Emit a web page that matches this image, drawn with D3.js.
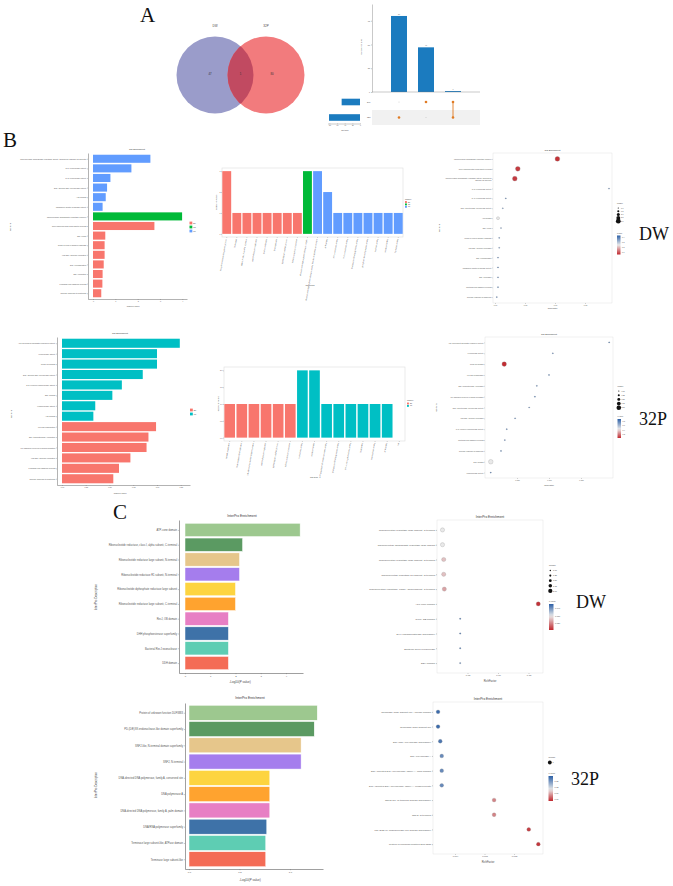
<!DOCTYPE html>
<html>
<head>
<meta charset="utf-8">
<script src="https://cdn.jsdelivr.net/npm/d3@7"></script>
<style>
  body { margin: 0; background: #fff; }
  svg { display: block; }
</style>
</head>
<body>
<svg id="fig" width="673" height="886"></svg>
<script>
// ---------- A: Venn + UpSet ----------
var vennSets = ["DW", "32P"];
var vennCounts = [47, 1, 80]; // DW only, shared, 32P only
var upsetSets = ["DW", "32P"];
var upsetSetSizes = [48, 81];
var upsetSizes = [80, 47, 1];
var upsetMembers = [["32P"], ["DW"], ["DW", "32P"]];
var upsetYTicks = [0, 25, 50, 75];
var setSizeTicks = [0, 20, 40, 60, 80];

// ---------- B: GO, DW ----------
var goDwTerms = [
  "ribonucleoside-diphosphate reductase activity, thioredoxin disulfide as acceptor",
  "3'-5' exonuclease activity",
  "5'-3' exonuclease activity",
  "DNA-directed DNA polymerase activity",
  "ATP binding",
  "phosphoric diester hydrolase activity",
  "ribonucleoside-diphosphate reductase complex",
  "deoxyribonucleotide biosynthetic process",
  "DNA repair",
  "killing of cells of another organism",
  "viral DNA genome replication",
  "DNA recombination",
  "DNA replication",
  "peptidoglycan catabolic process",
  "defense response to bacterium"
];
var goDwLog = [2.57, 1.72, 0.78, 0.63, 0.57, 0.43, 3.99, 2.75, 0.55, 0.52, 0.52, 0.48, 0.43, 0.42, 0.37];
var goDwCat = ["MF", "MF", "MF", "MF", "MF", "MF", "CC", "BP", "BP", "BP", "BP", "BP", "BP", "BP", "BP"];
var goLogTicks = [0, 1, 2, 3, 4];

var goDwCountTerms = [
  "deoxyribonucleotide biosynthetic process", "DNA repair", "killing of cells of another organism",
  "viral DNA genome replication", "DNA recombination", "DNA replication",
  "peptidoglycan catabolic process", "defense response to bacterium",
  "ribonucleoside-diphosphate reductase complex",
  "ribonucleoside-diphosphate reductase activity, thioredoxin disulfide as acceptor",
  "ATP binding", "3'-5' exonuclease activity", "5'-3' exonuclease activity",
  "DNA-directed DNA polymerase activity", "phosphoric diester hydrolase activity",
  "nuclease activity", "metal ion binding", "hydrolase activity"
];
var goDwCounts = [3, 1, 1, 1, 1, 1, 1, 1, 3, 3, 2, 1, 1, 1, 1, 1, 1, 1];
var goDwCountCat = ["BP", "BP", "BP", "BP", "BP", "BP", "BP", "BP", "CC", "MF", "MF", "MF", "MF", "MF", "MF", "MF", "MF", "MF"];
var goDwCountTicks = [0, 1, 2, 3];

var goDwDotTerms = [
  "ribonucleoside-diphosphate reductase complex",
  "deoxyribonucleotide biosynthetic process",
  "ribonucleoside-diphosphate reductase activity, thioredoxin disulfide as acceptor",
  "3'-5' exonuclease activity",
  "5'-3' exonuclease activity",
  "DNA-directed DNA polymerase activity",
  "ATP binding",
  "DNA repair",
  "killing of cells of another organism",
  "viral DNA genome replication",
  "DNA recombination",
  "phosphoric diester hydrolase activity",
  "DNA replication",
  "peptidoglycan catabolic process",
  "defense response to bacterium"
];
var goDwRich = [0.104, 0.038, 0.033, 0.19, 0.018, 0.013, 0.005, 0.010, 0.007, 0.007, 0.005, 0.005, 0.005, 0.005, 0.003];
var goDwNumber = [3, 3, 3, 1, 1, 1, 2, 1, 1, 1, 1, 1, 1, 1, 1];
var goDwP = [0.06, 0.07, 0.07, 0.42, 0.40, 0.40, 0.25, 0.41, 0.42, 0.42, 0.43, 0.43, 0.43, 0.43, 0.44];
var goDwRichTicks = [0, 0.05, 0.10, 0.15];
var goDwNumberTicks = [1, 1.5, 2, 2.5, 3];
var goDwPTicks = [0.1, 0.2, 0.3, 0.4];

// ---------- B: GO, 32P ----------
var go32Terms = [
  "ATP-dependent chromatin remodeler activity", "exonuclease activity", "metal ion binding",
  "DNA-directed DNA polymerase activity", "3'-5'-exodeoxyribonuclease activity", "DNA binding",
  "endonuclease activity", "ATP binding",
  "cell wall organization", "DNA-templated DNA replication", "cell adhesion involved in biofilm formation",
  "viral DNA genome replication", "peptidoglycan catabolic process", "defense response to bacterium"
];
var go32Log = [1.24, 1.00, 1.00, 0.85, 0.63, 0.53, 0.35, 0.33, 0.99, 0.91, 0.89, 0.72, 0.60, 0.54];
var go32Cat = ["MF", "MF", "MF", "MF", "MF", "MF", "MF", "MF", "BP", "BP", "BP", "BP", "BP", "BP"];
var go32LogTicks = [0, 0.25, 0.5, 0.75, 1, 1.25];

var go32CountTerms = [
  "cell wall organization", "DNA-templated DNA replication", "cell adhesion involved in biofilm formation",
  "viral DNA genome replication", "peptidoglycan catabolic process", "defense response to bacterium",
  "exonuclease activity", "metal ion binding", "ATP-dependent chromatin remodeler activity",
  "DNA-directed DNA polymerase activity", "3'-5'-exodeoxyribonuclease activity", "DNA binding",
  "endonuclease activity", "ATP binding", "NA"
];
var go32Counts = [1, 1, 1, 1, 1, 1, 2, 2, 1, 1, 1, 1, 1, 1, 0];
var go32CountCat = ["BP", "BP", "BP", "BP", "BP", "BP", "MF", "MF", "MF", "MF", "MF", "MF", "MF", "MF", "MF"];
var go32CountTicks = [0, 0.5, 1, 1.5, 2];

var go32DotTerms = [
  "ATP-dependent chromatin remodeler activity", "exonuclease activity", "metal ion binding",
  "cell wall organization", "DNA-templated DNA replication", "cell adhesion involved in biofilm formation",
  "DNA-directed DNA polymerase activity", "viral DNA genome replication",
  "3'-5'-exodeoxyribonuclease activity", "peptidoglycan catabolic process",
  "defense response to bacterium", "DNA binding", "endonuclease activity"
];
var go32Rich = [0.194, 0.106, 0.030, 0.100, 0.081, 0.078, 0.069, 0.047, 0.034, 0.031, 0.025, 0.009, 0.009];
var go32Number = [1, 1, 2, 1, 1, 1, 1, 1, 1, 1, 1, 2, 1];
var go32P = [0.85, 0.90, 0.06, 0.88, 0.88, 0.88, 0.85, 0.87, 0.87, 0.87, 0.88, 0.45, 0.90];
var go32RichTicks = [0.05, 0.10, 0.15];
var go32NumberTicks = [1, 1.25, 1.5, 1.75, 2];
var go32PTicks = [0.2, 0.4, 0.6, 0.8];

// ---------- C: InterPro ----------
var ipDwTerms = [
  "ATP-cone domain",
  "Ribonucleotide reductase, class I, alpha subunit, C-terminal",
  "Ribonucleotide reductase large subunit, N-terminal",
  "Ribonucleotide reductase R1 subunit, N-terminal",
  "Ribonucleotide diphosphate reductase large subunit",
  "Ribonucleotide reductase large subunit, C-terminal",
  "RecJ, OB domain",
  "DHH phosphoesterase superfamily",
  "Bacterial RecJ exonuclease",
  "DDH domain"
];
var ipDwLog = [4.56, 2.28, 2.16, 2.16, 2.0, 2.0, 1.72, 1.72, 1.72, 1.72];
var ipDwLogTicks = [0, 1, 2, 3, 4];

var ipDwDotTerms = [
  "Ribonucleotide reductase large subunit, C-terminal",
  "Ribonucleotide diphosphate reductase large subunit",
  "Ribonucleotide reductase large subunit, N-terminal",
  "Ribonucleotide reductase R1 subunit, N-terminal",
  "Ribonucleotide reductase, class I, alpha subunit, C-terminal",
  "ATP-cone domain",
  "RecJ, OB domain",
  "DHH phosphoesterase superfamily",
  "Bacterial RecJ exonuclease",
  "DDH domain"
];
var ipDwRich = [0.009, 0.009, 0.011, 0.011, 0.012, 0.166, 0.038, 0.038, 0.038, 0.038];
var ipDwNumber = [2, 2, 2, 2, 2, 2, 1, 1, 1, 1];
var ipDwP = [0.030, 0.030, 0.026, 0.026, 0.023, 0.012, 0.045, 0.045, 0.045, 0.045];
var ipDwRichTicks = [0.05, 0.10, 0.15];
var ipDwNumberTicks = [1, 1.25, 1.5, 1.75, 2];
var ipDwPTicks = [0.02, 0.03, 0.04];

var ip32Terms = [
  "Protein of unknown function DUF3883",
  "PD-(D/E)XK endonuclease-like domain superfamily",
  "SNF2-like, N-terminal domain superfamily",
  "SNF2, N-terminal",
  "DNA-directed DNA polymerase, family A, conserved site",
  "DNA polymerase A",
  "DNA-directed DNA polymerase, family A, palm domain",
  "DNA/RNA polymerase superfamily",
  "Terminase large subunit-like, ATPase domain",
  "Terminase large subunit-like"
];
var ip32Log = [1.27, 1.24, 1.11, 1.11, 0.80, 0.80, 0.80, 0.77, 0.76, 0.76];
var ip32LogTicks = [0, 0.5, 1.0];

var ip32DotTerms = [
  "Terminase large subunit-like, ATPase domain",
  "Terminase large subunit-like",
  "DNA/RNA polymerase superfamily",
  "DNA polymerase A",
  "DNA-directed DNA polymerase, family A, palm domain",
  "DNA-directed DNA polymerase, family A, conserved site",
  "SNF2-like, N-terminal domain superfamily",
  "SNF2, N-terminal",
  "PD-(D/E)XK endonuclease-like domain superfamily",
  "Protein of unknown function DUF3883"
];
var ip32Rich = [0.0017, 0.0017, 0.0020, 0.0022, 0.0022, 0.0022, 0.0093, 0.0093, 0.0140, 0.0153];
var ip32Number = [1, 1, 1, 1, 1, 1, 1, 1, 1, 1];
var ip32P = [0.174, 0.174, 0.168, 0.158, 0.158, 0.158, 0.078, 0.078, 0.057, 0.054];
var ip32RichTicks = [0.004, 0.008, 0.012];
var ip32NumberTicks = [1];
var ip32PTicks = [0.06, 0.09, 0.12, 0.15];

// ---------- styles ----------
var SANS = "Liberation Sans, Arial, sans-serif";
var SERIF = "Liberation Serif, Times New Roman, serif";
var goColor = { BP: "#F8766D", CC: "#00BA38", MF: "#619CFF" };
var go32Color = { BP: "#F8766D", MF: "#00BFC4" };
var ipPalette = ["#9dc88f", "#5b9a62", "#e6c68b", "#a57ded", "#fdd440", "#ffa32f", "#e77fc4", "#3e72a8", "#5ecdb3", "#f46c56"];
var upsetBlue = "#1b7bbf", upsetOrange = "#e07b24";

var svg = d3.select("#fig");
var defs = svg.append("defs");

function txt(g, x, y, s, size, opt) {
  opt = opt || {};
  var t = g.append("text").attr("x", x).attr("y", y).text(s)
    .attr("font-family", opt.serif ? SERIF : SANS)
    .attr("font-size", size)
    .attr("fill", opt.fill || "#444")
    .attr("text-anchor", opt.anchor || "middle");
  if (opt.rotate != null) t.attr("transform", `rotate(${opt.rotate},${x},${y})`);
  return t;
}

function styleAxis(a, fs, col) {
  a.attr("font-size", fs).attr("font-family", SANS);
  a.selectAll("path,line").attr("stroke", col || "#555").attr("stroke-width", 0.4);
  a.selectAll("text").attr("fill", "#555");
  return a;
}

/* ===== Panel letters and group tags ===== */
txt(svg, 140, 22, "A", 21, { serif: true, anchor: "start", fill: "#111" });
txt(svg, 3, 147, "B", 21, { serif: true, anchor: "start", fill: "#111" });
txt(svg, 113, 519, "C", 21, { serif: true, anchor: "start", fill: "#111" });
txt(svg, 639, 240, "DW", 18, { serif: true, anchor: "start", fill: "#111" });
txt(svg, 639, 425, "32P", 18, { serif: true, anchor: "start", fill: "#111" });
txt(svg, 576, 608, "DW", 18, { serif: true, anchor: "start", fill: "#111" });
txt(svg, 571, 785, "32P", 18, { serif: true, anchor: "start", fill: "#111" });

/* ===== A: Venn ===== */
(function () {
  var g = svg.append("g");
  var cx = d3.scalePoint().domain(vennSets).range([215, 266]);
  var cy = 75, r = 38.5;
  var fills = ["#9a9cca", "#f27b7d"];
  defs.append("clipPath").attr("id", "clipDW").append("circle")
    .attr("cx", cx("DW")).attr("cy", cy).attr("r", r);
  g.selectAll("circle.set").data(vennSets).join("circle")
    .attr("cx", d => cx(d)).attr("cy", cy).attr("r", r)
    .attr("fill", (d, i) => fills[i]);
  g.append("circle").attr("cx", cx("32P")).attr("cy", cy).attr("r", r)
    .attr("clip-path", "url(#clipDW)").attr("fill", "#c14a61");
  vennSets.forEach(function (s) { txt(g, cx(s), 27, s, 3); });
  var numX = [cx("DW") - 5, (cx("DW") + cx("32P")) / 2, cx("32P") + 6];
  vennCounts.forEach(function (v, i) { txt(g, numX[i], 75, v, 2.8, { fill: "#333" }); });
})();

/* ===== A: UpSet ===== */
(function () {
  var g = svg.append("g");
  var x = d3.scalePoint().domain(d3.range(upsetSizes.length)).range([399, 453]);
  var y = d3.scaleLinear().domain([0, 92.6]).range([92, 4]);
  var rows = d3.scalePoint().domain(upsetSets).range([102, 117.5]);
  g.append("rect").attr("x", 372).attr("y", rows("32P") - 7.5).attr("width", 108).attr("height", 15).attr("fill", "#f1f1f1");
  g.selectAll("rect.bar").data(upsetSizes).join("rect")
    .attr("x", (d, i) => x(i) - 8).attr("y", d => y(d))
    .attr("width", 16).attr("height", d => y(0) - y(d)).attr("fill", upsetBlue);
  upsetSizes.forEach(function (v, i) { txt(g, x(i), y(v) - 1.2, v, 1.8, { fill: "#666" }); });
  var ay = g.append("g").attr("transform", "translate(372,0)")
    .call(d3.axisLeft(y).tickValues(upsetYTicks).tickSize(1).tickPadding(1).tickSizeOuter(0));
  styleAxis(ay, 2, "#777");
  g.append("line").attr("x1", 372).attr("x2", 480).attr("y1", y(0)).attr("y2", y(0)).attr("stroke", "#777").attr("stroke-width", 0.4);
  txt(g, 362, 47, "Intersection Size", 2.2, { rotate: -90 });
  upsetMembers.forEach(function (m, i) {
    var ys = m.map(s => rows(s));
    if (ys.length > 1) {
      g.append("line").attr("x1", x(i)).attr("x2", x(i)).attr("y1", d3.min(ys)).attr("y2", d3.max(ys))
        .attr("stroke", upsetOrange).attr("stroke-width", 0.9);
    }
    upsetSets.forEach(function (s) {
      var on = m.indexOf(s) >= 0;
      g.append("circle").attr("cx", x(i)).attr("cy", rows(s)).attr("r", on ? 1.3 : 0.5)
        .attr("fill", on ? upsetOrange : "#c8c8c8");
    });
  });
  var sx = d3.scaleLinear().domain([0, 85]).range([360, 327.5]);
  g.selectAll("rect.set").data(upsetSets).join("rect")
    .attr("x", (d, i) => sx(upsetSetSizes[i])).attr("y", d => rows(d) - 3.3)
    .attr("width", (d, i) => sx(0) - sx(upsetSetSizes[i])).attr("height", 6.6).attr("fill", upsetBlue);
  upsetSets.forEach(function (s) { txt(g, 367, rows(s) + 0.7, s, 2, { anchor: "start" }); });
  var ax = g.append("g").attr("transform", "translate(0,123.5)")
    .call(d3.axisBottom(sx).tickValues(setSizeTicks).tickSize(0.8).tickPadding(0.6).tickSizeOuter(0));
  styleAxis(ax, 1.7, "#777");
  txt(g, 345, 131, "Set Size", 2);
})();

/* ===== horizontal bar chart ===== */
function hBars(c) {
  var g = svg.append("g");
  var y = d3.scalePoint().domain(c.terms).range([c.top, c.bottom]).padding(c.pad);
  var x = d3.scaleLinear().domain(c.xdom).range([c.left, c.right]);
  var h = y.step() * c.fill;
  g.selectAll("rect.bar").data(c.terms).join("rect")
    .attr("x", x(0)).attr("y", d => y(d) - h / 2)
    .attr("width", (d, i) => x(c.values[i]) - x(0)).attr("height", h)
    .attr("fill", (d, i) => c.color(i))
    .attr("stroke", c.edge || "none").attr("stroke-width", 0.5);
  var ay = g.append("g").attr("transform", `translate(${c.left},0)`)
    .call(d3.axisLeft(y).tickSize(c.tick).tickPadding(0.8).tickSizeOuter(0));
  styleAxis(ay, c.fs, c.spine);
  ay.select(".domain").attr("stroke-width", c.spineW);
  var ax = g.append("g").attr("transform", `translate(0,${c.bottom})`)
    .call(d3.axisBottom(x).tickValues(c.ticks).tickFormat(c.fmt).tickSize(c.tick).tickPadding(0.8).tickSizeOuter(0));
  styleAxis(ax, c.tfs, c.spine);
  ax.select(".domain").attr("stroke-width", c.spineW);
  txt(g, c.titleX, c.titleY, c.title, c.titleFs, { fill: "#333" });
  txt(g, c.xlabX, c.xlabY, c.xlab, c.labFs);
  txt(g, c.ylabX, c.ylabY, c.ylab, c.labFs, { rotate: -90 });
  return g;
}

function catLegend(g, cats, colors, x, y0, step, size, fs, title) {
  if (title) txt(g, x, y0 - step, title, fs, { anchor: "start" });
  cats.forEach(function (k, i) {
    g.append("rect").attr("x", x).attr("y", y0 + i * step - size / 2).attr("width", size).attr("height", size).attr("fill", colors[k]);
    txt(g, x + size + 1, y0 + i * step + fs * 0.35, k, fs, { anchor: "start" });
  });
}

// B top-left
var bTL = hBars({
  terms: goDwTerms, values: goDwLog, color: i => goColor[goDwCat[i]],
  top: 153, bottom: 299, pad: 0.6, fill: 0.84,
  left: 88, right: 187, xdom: [-5 / 22.33, 99 / 22.33 - 5 / 22.33],
  ticks: goLogTicks, fmt: d3.format("d"), tick: 0.8, fs: 1.9, tfs: 1.8, spine: "#666", spineW: 0.5,
  title: "GO Enrichment", titleX: 137, titleY: 150, titleFs: 2.3,
  xlab: "-log10(P value)", xlabX: 133, xlabY: 306.5, ylab: "GO Term", ylabX: 11, ylabY: 227, labFs: 2
});
catLegend(bTL, ["BP", "CC", "MF"], goColor, 189.5, 223, 4, 2.8, 1.8);

// B bottom-left
var bBL = hBars({
  terms: go32Terms, values: go32Log, color: i => go32Color[go32Cat[i]],
  top: 337, bottom: 485, pad: 0.6, fill: 0.87,
  left: 57, right: 190, xdom: [-5 / 95, 128 / 95],
  ticks: go32LogTicks, fmt: d3.format(".2f"), tick: 0.8, fs: 1.9, tfs: 1.8, spine: "#666", spineW: 0.5,
  title: "GO Enrichment", titleX: 120, titleY: 334, titleFs: 2.3,
  xlab: "-log10(P value)", xlabX: 120, xlabY: 494, ylab: "GO Term", ylabX: 12, ylabY: 414, labFs: 2
});
catLegend(bBL, ["BP", "MF"], go32Color, 190, 410, 4, 2.8, 1.8);

// C top-left
hBars({
  terms: ipDwTerms, values: ipDwLog, color: i => ipPalette[i], edge: "#fff",
  top: 520, bottom: 673, pad: 0.67, fill: 0.9,
  left: 179, right: 303, xdom: [-6 / 25.25, 118 / 25.25],
  ticks: ipDwLogTicks, fmt: d3.format("d"), tick: 1.2, fs: 2.6, tfs: 2.5, spine: "#777", spineW: 0.7,
  title: "InterPro Enrichment", titleX: 242, titleY: 517, titleFs: 3.3,
  xlab: "-Log10(P value)", xlabX: 240, xlabY: 683, ylab: "InterPro Description", ylabX: 97, ylabY: 597, labFs: 3
});

// C bottom-left
hBars({
  terms: ip32Terms, values: ip32Log, color: i => ipPalette[i], edge: "#fff",
  top: 703, bottom: 869, pad: 0.6, fill: 0.92,
  left: 185, right: 323, xdom: [-4 / 101, 134 / 101],
  ticks: ip32LogTicks, fmt: d3.format(".1f"), tick: 1.2, fs: 2.6, tfs: 2.5, spine: "#777", spineW: 0.7,
  title: "InterPro Enrichment", titleX: 250, titleY: 699, titleFs: 3.3,
  xlab: "-Log10(P value)", xlabX: 250, xlabY: 880.5, ylab: "InterPro Description", ylabX: 97, ylabY: 785, labFs: 3
});

/* ===== vertical bar chart (number of genes) ===== */
function vBars(c) {
  var g = svg.append("g");
  var x = d3.scaleBand().domain(c.terms).range([c.left, c.right]).paddingInner(0.12).paddingOuter(0.03);
  var y = d3.scaleLinear().domain([-0.05 * c.ymax, c.ymax * 1.05]).range([c.bottom, c.top]);
  g.append("rect").attr("x", c.left).attr("y", c.top).attr("width", c.right - c.left).attr("height", c.bottom - c.top)
    .attr("fill", "none").attr("stroke", "#ddd").attr("stroke-width", 0.6);
  g.selectAll("rect.bar").data(c.terms).join("rect")
    .attr("x", d => x(d)).attr("y", (d, i) => y(c.values[i]))
    .attr("width", x.bandwidth()).attr("height", (d, i) => y(0) - y(c.values[i]))
    .attr("fill", (d, i) => c.colors[c.cats[i]]);
  var ay = g.append("g").attr("transform", `translate(${c.left},0)`)
    .call(d3.axisLeft(y).tickValues(c.yticks).tickFormat(c.fmt).tickSize(0.8).tickPadding(0.8));
  styleAxis(ay, 1.8, "#777");
  ay.select(".domain").remove();
  c.terms.forEach(function (t, i) {
    var xc = x(t) + x.bandwidth() / 2;
    g.append("line").attr("x1", xc).attr("x2", xc).attr("y1", c.bottom).attr("y2", c.bottom + 0.8).attr("stroke", "#777").attr("stroke-width", 0.4);
    txt(g, xc, c.bottom + 2, t, 1.8, { anchor: "end", rotate: -80, fill: "#555" });
  });
  txt(g, c.xlabX, c.xlabY, c.xlab, 2);
  txt(g, c.left - 5, (c.top + c.bottom) / 2, "Number of genes", 2, { rotate: -90 });
  catLegend(g, c.legendCats, c.colors, c.right + 2, c.legendY, 2.4, 1.9, 1.6, "Category");
}

vBars({
  terms: goDwCountTerms, values: goDwCounts, cats: goDwCountCat, colors: goColor,
  left: 222, right: 403, top: 168, bottom: 237, ymax: 3, yticks: goDwCountTicks, fmt: d3.format("d"),
  xlab: "GO Terms", xlabX: 310, xlabY: 286, legendCats: ["BP", "CC", "MF"], legendY: 202
});
vBars({
  terms: go32CountTerms, values: go32Counts, cats: go32CountCat, colors: go32Color,
  left: 224, right: 405, top: 367, bottom: 441, ymax: 2, yticks: go32CountTicks, fmt: d3.format(".1f"),
  xlab: "GO Term", xlabX: 314, xlabY: 478, legendCats: ["BP", "MF"], legendY: 403.5
});

/* ===== dot plots ===== */
var gradN = 0;
function dotPlot(c) {
  var g = svg.append("g");
  var y = d3.scalePoint().domain(c.terms).range([c.top, c.bottom]).padding(c.pad);
  var x = d3.scaleLinear().domain(c.xdom).range([c.left, c.right]);
  var color = d3.scaleLinear().domain(c.pdom).range(["#c1272d", "#e9e9e9", "#2b5fa6"]);
  var r = d3.scaleLinear().domain(c.ndom).range(c.rr);
  g.append("rect").attr("x", c.left).attr("y", c.top).attr("width", c.right - c.left).attr("height", c.bottom - c.top)
    .attr("fill", "none").attr("stroke", "#e2e2e2").attr("stroke-width", 0.5);
  var ay = g.append("g").attr("transform", `translate(${c.left},0)`)
    .call(d3.axisLeft(y).tickSize(c.tick).tickPadding(0.8).tickSizeOuter(0));
  styleAxis(ay, c.fs, "#777");
  ay.select(".domain").remove();
  if (c.wrap) {
    ay.selectAll("text").each(function (d) {
      if (d.length <= c.wrap) return;
      var t = d3.select(this), cut = d.lastIndexOf(" ", c.wrap), xx = t.attr("x");
      t.text(null);
      t.append("tspan").attr("x", xx).attr("dy", "-0.25em").text(d.slice(0, cut));
      t.append("tspan").attr("x", xx).attr("dy", "1.1em").text(d.slice(cut + 1));
    });
  }
  var ax = g.append("g").attr("transform", `translate(0,${c.bottom})`)
    .call(d3.axisBottom(x).tickValues(c.xticks).tickFormat(d3.format(c.xfmt)).tickSize(0.8).tickPadding(0.8).tickSizeOuter(0));
  styleAxis(ax, c.tfs, "#777");
  ax.select(".domain").remove();
  g.selectAll("circle.dot").data(c.terms).join("circle")
    .attr("cx", (d, i) => x(c.rich[i])).attr("cy", d => y(d))
    .attr("r", (d, i) => r(c.number[i]))
    .attr("fill", (d, i) => color(c.pvalue[i]))
    .attr("stroke", "#888").attr("stroke-width", 0.25);
  txt(g, (c.left + c.right) / 2, c.top - 2.5, c.title, c.titleFs, { fill: "#333" });
  txt(g, (c.left + c.right) / 2, c.xlabY, "RichFactor", c.labFs);
  if (c.ylab) txt(g, c.ylabX, (c.top + c.bottom) / 2, c.ylab, c.labFs, { rotate: -90 });
  var L = c.leg;
  txt(g, L.x, L.numY, "number", c.legFs, { anchor: "start" });
  c.nticks.forEach(function (v, i) {
    var yy = L.numY + 4.5 + i * L.numStep;
    g.append("circle").attr("cx", L.x + 1.3).attr("cy", yy).attr("r", r(v)).attr("fill", "#111");
    txt(g, L.x + 4, yy + c.legFs * 0.35, c.nfmt(v), c.legFs, { anchor: "start" });
  });
  var id = "grad" + (gradN++);
  var lg = defs.append("linearGradient").attr("id", id).attr("x1", 0).attr("y1", 1).attr("x2", 0).attr("y2", 0);
  d3.range(0, 1.001, 0.1).forEach(function (t) {
    var v = c.pdom[0] + t * (c.pdom[2] - c.pdom[0]);
    lg.append("stop").attr("offset", t).attr("stop-color", color(v));
  });
  txt(g, L.x, L.pY, c.ptitle, c.legFs, { anchor: "start" });
  g.append("rect").attr("x", L.x).attr("y", L.pY + 2).attr("width", L.gw).attr("height", L.gh).attr("fill", `url(#${id})`);
  var py = d3.scaleLinear().domain([c.pdom[0], c.pdom[2]]).range([L.pY + 2 + L.gh, L.pY + 2]);
  c.pticks.forEach(function (v) {
    txt(g, L.x + L.gw + 1.5, py(v) + c.legFs * 0.35, c.pfmt(v), c.legFs, { anchor: "start" });
  });
}

// B top-right
dotPlot({
  terms: goDwDotTerms, rich: goDwRich, number: goDwNumber, pvalue: goDwP,
  left: 493, right: 612, top: 153, bottom: 303, pad: 0.6, tick: 0.6, fs: 1.8, tfs: 1.8, wrap: 62,
  xdom: [-2 / 600, 117 / 600], xticks: goDwRichTicks, xfmt: ".2f",
  pdom: [0.05, 0.25, 0.45], ndom: [1, 3], rr: [0.6, 2.4],
  title: "GO Enrichment", titleFs: 2.3, xlabY: 309, ylab: "GO Term", ylabX: 440, labFs: 2,
  nticks: goDwNumberTicks, nfmt: d3.format(".1f"), pticks: goDwPTicks, pfmt: d3.format(".1f"), ptitle: "Pvalue",
  legFs: 1.7, leg: { x: 617, numY: 203.5, numStep: 3.3, pY: 233.5, gw: 3.5, gh: 19 }
});

// B bottom-right
dotPlot({
  terms: go32DotTerms, rich: go32Rich, number: go32Number, pvalue: go32P,
  left: 485, right: 613, top: 337, bottom: 478, pad: 0.5, tick: 0.6, fs: 1.8, tfs: 1.8,
  xdom: [0, 0.2], xticks: go32RichTicks, xfmt: ".3f",
  pdom: [0.05, 0.45, 0.9], ndom: [1, 2], rr: [0.6, 2.3],
  title: "GO Enrichment", titleFs: 2.3, xlabY: 486, ylab: "GO Term", ylabX: 437, labFs: 2,
  nticks: go32NumberTicks, nfmt: d3.format(".2f"), pticks: go32PTicks, pfmt: d3.format(".1f"), ptitle: "P value",
  legFs: 1.7, leg: { x: 617.5, numY: 386.5, numStep: 4.2, pY: 417, gw: 3.5, gh: 19 }
});

// C top-right
dotPlot({
  terms: ipDwDotTerms, rich: ipDwRich, number: ipDwNumber, pvalue: ipDwP,
  left: 437, right: 543, top: 520, bottom: 673, pad: 0.67, tick: 1, fs: 2.5, tfs: 2.3,
  xdom: [0, 106 / 610], xticks: ipDwRichTicks, xfmt: ".2f",
  pdom: [0.011, 0.030, 0.046], ndom: [1, 2], rr: [0.7, 2.1],
  title: "InterPro Enrichment", titleFs: 3.2, xlabY: 682, ylab: "", labFs: 2.6,
  nticks: ipDwNumberTicks, nfmt: d3.format(".2f"), pticks: ipDwPTicks, pfmt: d3.format(".3f"), ptitle: "P value",
  legFs: 2, leg: { x: 549, numY: 566, numStep: 5.1, pY: 602, gw: 4.5, gh: 26 }
});

// C bottom-right
dotPlot({
  terms: ip32DotTerms, rich: ip32Rich, number: ip32Number, pvalue: ip32P,
  left: 433, right: 543, top: 702, bottom: 854, pad: 0.67, tick: 1, fs: 2.5, tfs: 2.3,
  xdom: [7.5 / 7375, 117.5 / 7375], xticks: ip32RichTicks, xfmt: ".3f",
  pdom: [0.05, 0.11, 0.18], ndom: [0, 1], rr: [0, 1.9],
  title: "InterPro Enrichment", titleFs: 3.2, xlabY: 863, ylab: "", labFs: 2.6,
  nticks: ip32NumberTicks, nfmt: d3.format("d"), pticks: ip32PTicks, pfmt: d3.format(".2f"), ptitle: "P value",
  legFs: 2, leg: { x: 548.5, numY: 758, numStep: 5, pY: 774, gw: 4.5, gh: 25 }
});
</script>
</body>
</html>
